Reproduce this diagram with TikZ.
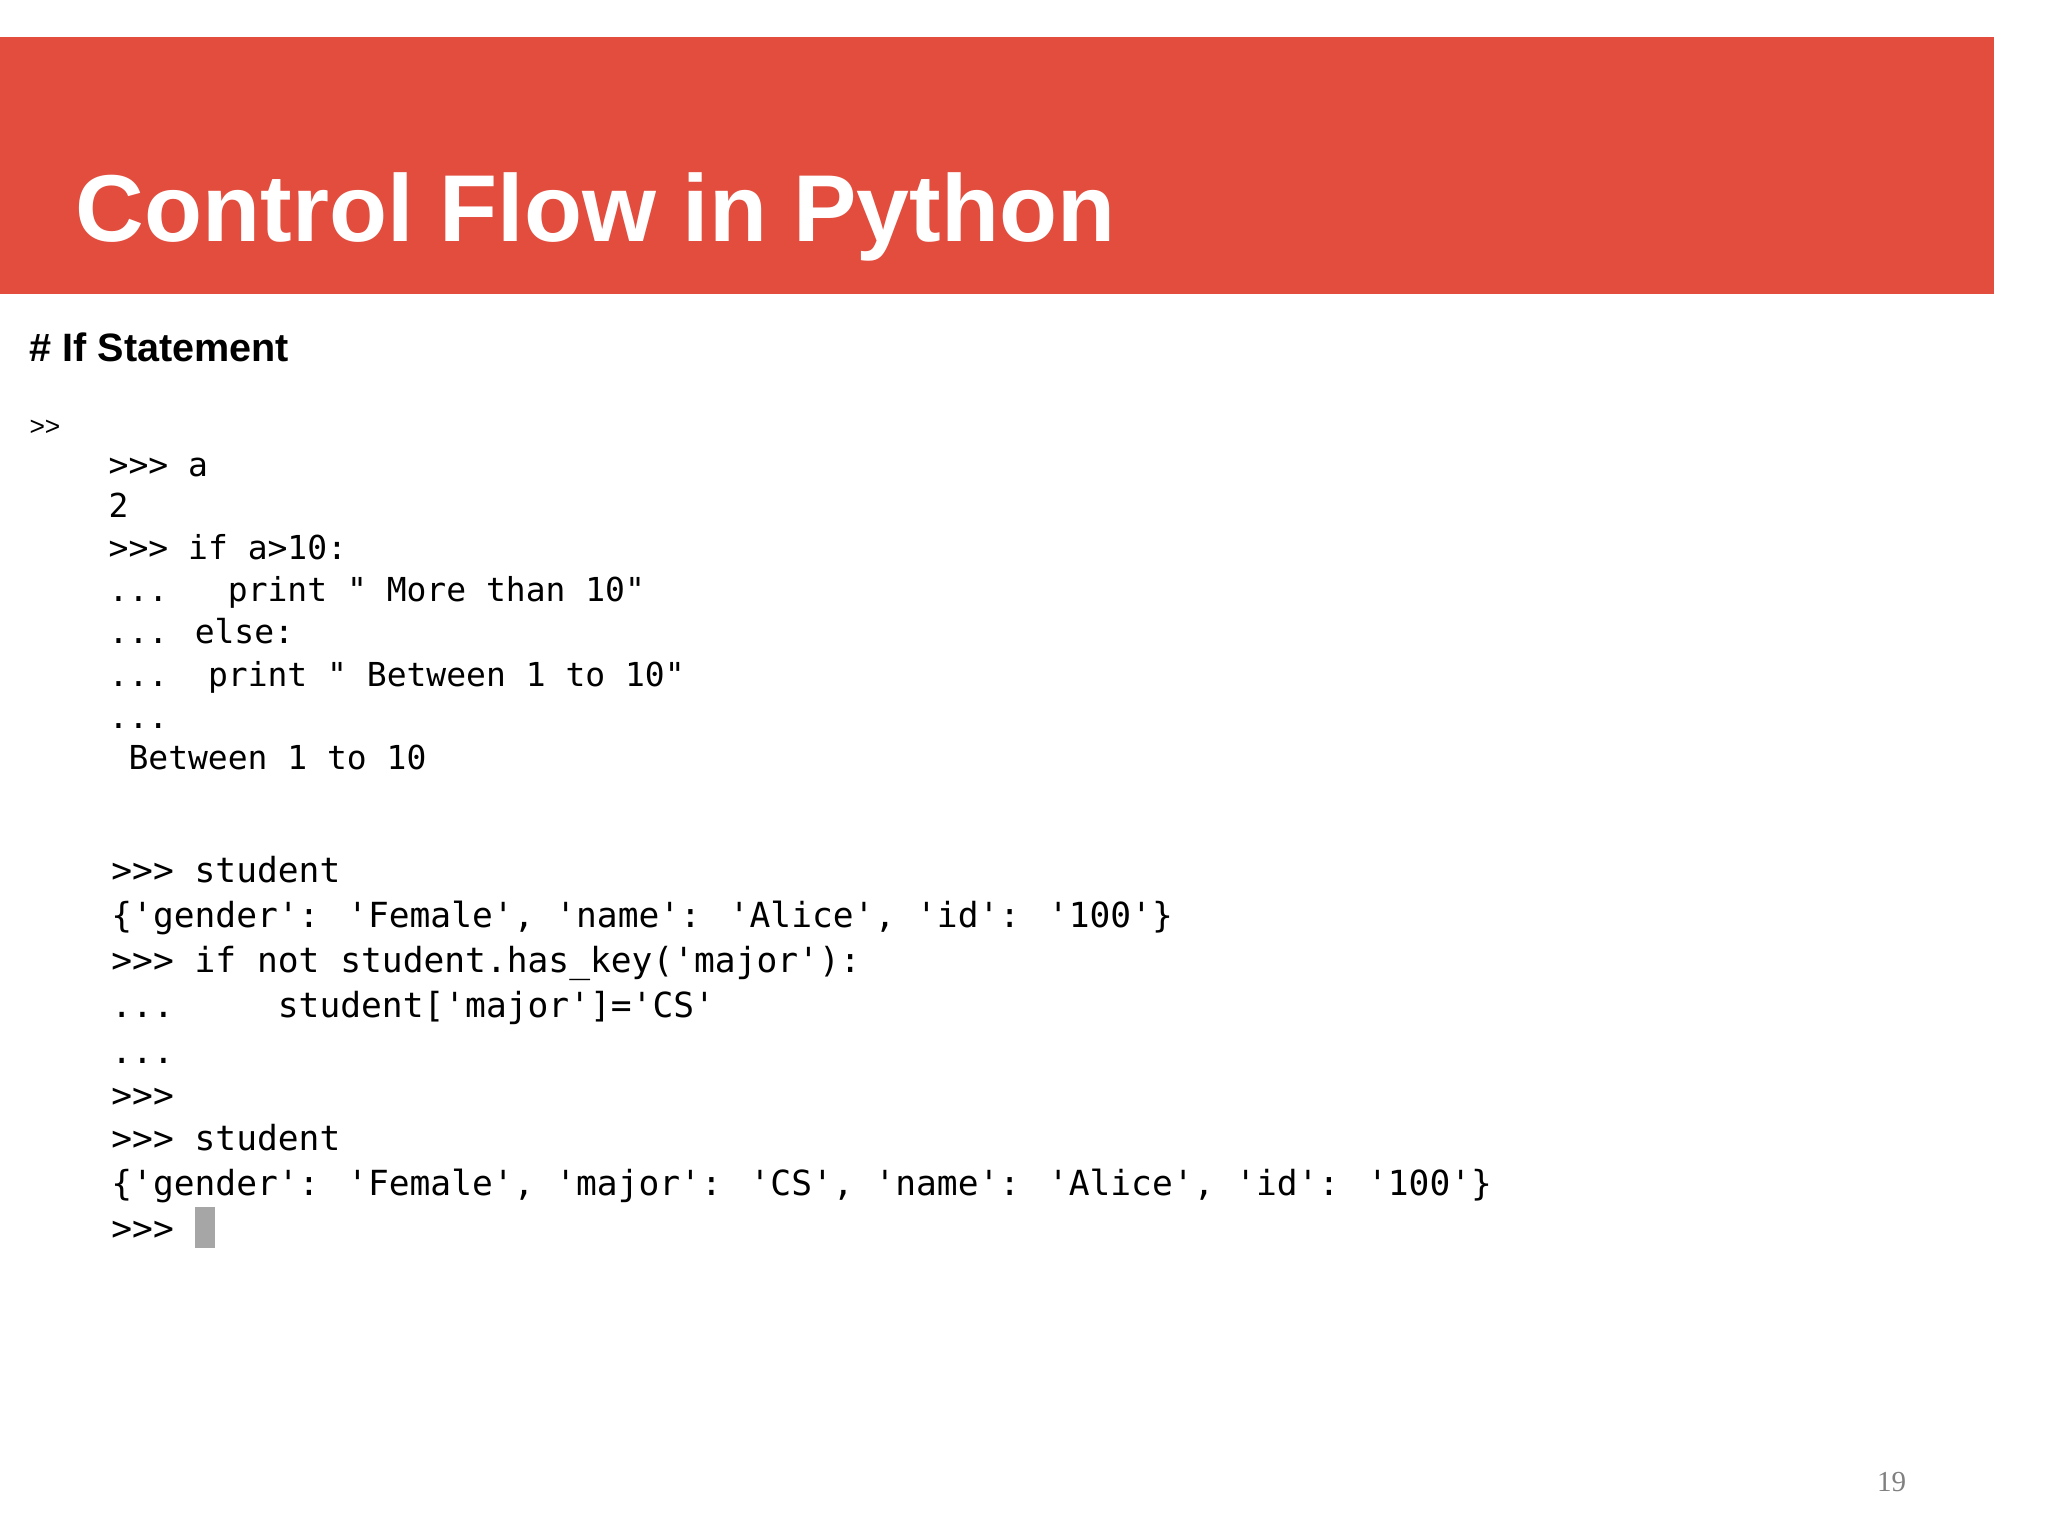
\documentclass[tikz,border=0pt]{standalone}
\usepackage{fontspec}
\setmainfont{Liberation Sans}
\newfontfamily\codefont{DejaVu Sans Mono}
\newfontfamily\numfont{Liberation Serif}
\definecolor{band}{HTML}{E34D3E}
\begin{document}
\begin{tikzpicture}[x=0.5pt,y=-0.5pt,
  codeA/.style={anchor=base west,inner sep=0pt,font=\codefont\fontsize{12.5}{14}\selectfont},
  codeB/.style={anchor=base west,inner sep=0pt,font=\codefont\fontsize{13.1}{15}\selectfont}]
\useasboundingbox[fill=white] (0,0) rectangle (1552,1164);
\fill[band] (0,28) rectangle (1511,223);
\node[anchor=base west,inner sep=0pt,text=white,font=\bfseries\fontsize{36}{40}\selectfont] (title) at (57,183) {Control Flow in Python};
\node[anchor=base west,inner sep=0pt,font=\bfseries\fontsize{15}{18}\selectfont] (sub) at (22,274) {\# If Statement};
\node[anchor=base west,inner sep=0pt,font=\fontsize{10}{12}\selectfont] (pr) at (22,330) {>{}>};
\node[codeA] (a1) at (82,361) {>>> a};
\node[codeA] (a2) at (82,392) {2};
\node[codeA] (a3) at (82,424) {>>> if a>10:};
\node[codeA] (a4) at (82,456) {...\ \ \ print " More than 10"};
\node[codeA] (a5) at (82,488) {... else:};
\node[codeA] (a6) at (82,520) {...\ \ print " Between 1 to 10"};
\node[codeA] (a7) at (82,552) {...};
\node[codeA] (a8) at (97,583) {Between 1 to 10};
\node[codeB] (b1) at (84,669) {>>> student};
\node[codeB] (b2) at (84,703) {\{'gender': 'Female', 'name': 'Alice', 'id': '100'\}};
\node[codeB] (b3) at (84,737) {>>> if not student.has\_key('major'):};
\node[codeB] (b4) at (84,771) {...\ \ \ \ \ student['major']='CS'};
\node[codeB] (b5) at (84,806) {...};
\node[codeB] (b6) at (84,839) {>>>};
\node[codeB] (b7) at (84,872) {>>> student};
\node[codeB] (b8) at (84,906) {\{'gender': 'Female', 'major': 'CS', 'name': 'Alice', 'id': '100'\}};
\node[codeB] (b9) at (84,940) {>>>};
\fill[gray!70] (148,915) rectangle (163,946);
\node[anchor=base west,inner sep=0pt,text=gray,font=\numfont\fontsize{11}{13}\selectfont] (pg) at (1422,1130) {19};
\end{tikzpicture}
\end{document}
